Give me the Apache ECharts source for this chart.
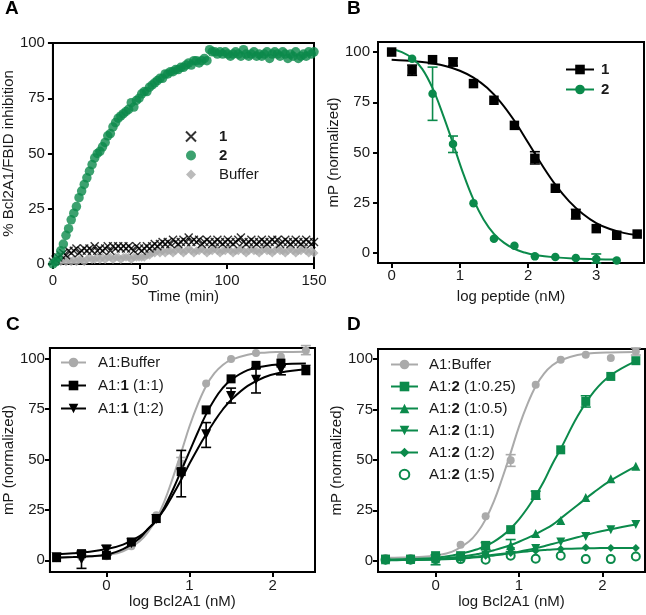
<!DOCTYPE html>
<html><head><meta charset="utf-8">
<script src="https://cdn.jsdelivr.net/npm/echarts@6/dist/echarts.min.js"></script>
<style>html,body{margin:0;padding:0;background:#fff}#c{width:646px;height:615px}</style>
</head><body><div id="c"></div>
<script>
// ---------- Panel A: kinetics ----------
const timeMin = [0,1.5,3,4.5,6,7.5,9,10.5,12,13.5,
15,16.5,18,19.5,21,22.5,24,25.5,27,28.5,
30,31.5,33,34.5,36,37.5,39,40.5,42,43.5,
45,46.5,48,49.5,51,52.5,54,55.5,57,58.5,
60,61.5,63,64.5,66,67.5,69,70.5,72,73.5,
75,76.5,78,79.5,81,82.5,84,85.5,87,88.5,
90,91.5,93,94.5,96,97.5,99,100.5,102,103.5,
105,106.5,108,109.5,111,112.5,114,115.5,117,118.5,
120,121.5,123,124.5,126,127.5,129,130.5,132,133.5,
135,136.5,138,139.5,141,142.5,144,145.5,147,148.5,
150];
const inhib2 = [0,1,3,6,9,13,16,20,23,26,
30,33,36,39,42,45,48,50,51,53,
55,58,59,62,64,66,67,68,69,70,
73,71,74,75,77,78,78,80,81,82,
83,84,84,86,86,87,87,88,88,89,
89,90,91,90,92,92,91,92,93,92,
97,96,96,95,96,95,96,95,94,95,
96,95,94,97,95,94,95,96,94,95,
94,95,96,93,95,96,95,94,96,95,
93,95,94,96,93,94,95,94,96,95,
96];
const inhib1 = [1,2,3,4,5,4,6,5,6,7,
5,6,7,6,7,6,8,6,7,6,
7,8,6,8,7,8,7,8,7,8,
7,6,8,7,6,7,8,7,8,9,
8,9,10,9,10,9,11,10,9,10,
11,10,12,10,11,10,11,9,10,11,
10,9,10,11,10,9,10,11,10,9,
10,11,12,10,9,10,11,10,9,10,
11,10,9,10,11,10,11,9,10,11,
10,9,10,11,10,9,10,11,10,9,
10];
const inhibBuffer = [1,1,2,1,2,1,2,1,2,1,
2,2,1,2,3,2,2,3,2,3,
2,3,3,2,3,3,2,3,3,3,
2,3,3,3,3,3,4,4,5,5,
6,5,6,5,6,6,5,6,7,6,
5,6,7,6,5,6,6,7,6,5,
6,6,7,6,5,6,6,7,6,5,
6,6,7,6,5,6,7,6,6,5,
6,7,6,6,5,6,7,6,6,5,
6,7,6,5,6,6,7,6,5,6,
5];
const ticksA_x = [0,50,100,150];
const ticksPct = [0,25,50,75,100];

// ---------- Panel B: competition ----------
const logPep1 = [0,0.3,0.6,0.9,1.2,1.5,1.8,2.1,2.4,2.7,3.0,3.3,3.6];
const mpB1 = [100,91,96.2,95,84.3,76,63.5,47.1,32.2,19.3,12.1,8.8,9.4];
const errB1X = [0.3,0.9,2.1,2.7];
const errB1Lo = [88.4,93.2,44.3,16.9];
const errB1Hi = [93.5,97,50.4,21.7];
const logPep2 = [0.3,0.6,0.9,1.2,1.5,1.8,2.1,2.4,2.7,3.0,3.3];
const mpB2 = [96.7,79.3,54.2,24.8,7.1,3.6,-1.7,-2,-2.5,-3,-3.8];
const errB2X = [0.6,0.9,3.0];
const errB2Lo = [66,50,-5];
const errB2Hi = [92.5,58.2,-0.5];
const fitXB1 = [0,0.2,0.4,0.6,0.8,1.0,1.2,1.4,1.6,1.8,2.0,2.2,2.4,2.6,2.8,3.0,3.2,3.4,3.6];
const fitB1 = [96.2,95.8,95.2,94.3,92.9,90.7,87.3,82.2,75,65.8,55,44,34,25.8,19.5,14.9,11.9,10,8.9];
const fitXB2 = [0,0.15,0.3,0.45,0.6,0.75,0.9,1.05,1.2,1.35,1.5,1.65,1.8,1.95,2.1,2.4,2.7,3.0,3.3];
const fitB2 = [101.5,100,97,91.5,82,69,54.5,39.5,26.5,16.5,9.5,5,2,0.2,-1,-2.2,-2.8,-3.1,-3.2];
const ticksB_x = [0,1,2,3];

// ---------- Panels C & D: titrations ----------
const logA1 = [-0.6,-0.3,0,0.3,0.6,0.9,1.2,1.5,1.8,2.1,2.4];
const cBuf = [1.2,1.5,2,7,22.4,48,87.7,99.8,102.8,101,104.1];
const c11 = [1.3,3.3,2.5,9.1,20.7,44,74.6,90,96.7,97.8,94];
const c12 = [1.5,0.5,5,8.5,20.5,43,62.5,81.5,89.6,94.5,94.5];
const errCBufX = [0.9,2.4], errCBufLo = [46,102], errCBufHi = [51,106.5];
const errC12X = [-0.3,0,0.9,1.2,1.5,1.8,2.1];
const errC12Lo = [-4,2.5,31.5,56,78,83,92];
const errC12Hi = [4.5,7.5,54.5,68.3,85.4,95.4,96.8];
const fitX = [-0.6,-0.4,-0.2,0,0.2,0.4,0.5,0.6,0.7,0.8,0.9,1.0,1.1,1.2,1.3,1.4,1.5,1.7,1.9,2.1,2.4];
const fitCBuf = [1.5,1.6,1.9,2.6,4.5,9.5,14,20.5,29.5,41,53.5,66.5,77.5,86.5,92.8,96.9,99.4,102,103,103.3,103.5];
const fitC11 = [1.3,1.6,2,2.8,5.5,11,15.5,19.5,26.5,35,44.5,54,63.5,72.5,79.8,85.5,89.5,94.3,96.3,97.2,97.6];
const fitC12 = [3,3.5,4.3,5.6,7.8,12,15.5,20,25.5,32.5,40,48,55.5,62.5,69,74.8,79.5,86.5,90.8,93.2,94.8];

const dBuf = [1.3,1.3,2.1,7.9,22,49.8,87.3,99.7,102.1,100.5,103.8];
const dQ25 = [0.8,0.8,2.5,2.5,7.6,15.4,32.7,55,79,91.4,99.2];
const dH50 = [0.5,0.6,1,2,4.7,7.5,13.5,20,31.4,40.7,46.8];
const d11 = [0.3,0.5,0.8,1.5,2.8,4.5,6,9.3,12,15.4,18];
const d12 = [0.3,0.4,0.8,1.5,2.5,3.8,5,5.8,6.5,6.3,6.3];
const d15 = [0.5,0.5,0.8,0.8,0.5,2.5,1,2.5,0.8,0.8,2.1];
const errDBufX = [0.9,2.4], errDBufLo = [46.8,102], errDBufHi = [52.6,105.5];
const errDQ25X = [0,0.6,1.2,1.8], errDQ25Lo = [-2,5.5,30.5,76.2], errDQ25Hi = [3,9,34.5,81.8];
const errDH50X = [0.9], errDH50Lo = [4.5], errDH50Hi = [10.5];
const fitDBuf = [1.5,1.6,1.9,2.6,4.5,9.5,14,20.5,29.5,41,53.5,66.5,77.5,86.5,92.8,96.9,99.4,102,103,103.3,103.5];
const fitDQ25 = [0.6,0.7,1,1.5,2.6,4.4,5.7,7.3,9.5,12.3,16,20.5,26,32.3,39.5,48,55.5,71.5,84,92,99];
const fitDH50 = [0.4,0.5,0.7,1,1.6,2.6,3.3,4.1,5.2,6.4,7.8,9.4,11.2,13.2,15.4,17.8,21,27.5,34,39.8,46.8];
const fitD11 = [0.3,0.35,0.45,0.6,0.9,1.4,1.7,2.1,2.6,3.1,3.8,4.5,5.3,6.2,7.2,8.3,9.4,11.6,13.8,15.6,18];
const fitD12 = [0.2,0.3,0.4,0.7,1.1,1.7,2.1,2.5,2.9,3.4,3.8,4.2,4.6,5,5.3,5.6,5.8,6.1,6.2,6.3,6.3];
const ticksCD_x = [0,1,2];

// ---------- styling ----------
const FONT = 'Liberation Sans, Arial, Helvetica, sans-serif';
const TXT = '#1a1a1a';
const GREEN = '#0b8a4b';
const GRAY = '#aaaaaa';
const BLACK = '#000000';
const XSYM = 'path://M0,0L10,10M0,10L10,0';
const DOWNTRI = 'path://M0,0L10,0L5,9Z';

const legendText = {
  'A:1': '{b|1}', 'A:2': '{b|2}', 'A:Buffer': 'Buffer',
  'B:1': '{b|1}', 'B:2': '{b|2}',
  'C:buf': 'A1:Buffer', 'C:11': 'A1:{b|1} (1:1)', 'C:12': 'A1:{b|1} (1:2)',
  'D:buf': 'A1:Buffer', 'D:q25': 'A1:{b|2} (1:0.25)', 'D:h50': 'A1:{b|2} (1:0.5)',
  'D:11': 'A1:{b|2} (1:1)', 'D:12': 'A1:{b|2} (1:2)', 'D:15': 'A1:{b|2} (1:5)'
};

function pts(xs, ys){ return xs.map((x,i)=>[x, ys[i]]); }
function errs(xs, lo, hi){ return xs.map((x,i)=>[x, lo[i], hi[i]]); }

function axis(gridIndex, min, max, ticks, name, nameGap, margin){
  return {
    type:'value', gridIndex, min, max, name, nameLocation:'middle', nameGap,
    nameTextStyle:{fontSize:15, color:TXT, fontFamily:FONT},
    axisLine:{show:true, onZero:false, lineStyle:{color:'#000', width:2}},
    axisTick:{show:true, inside:false, length:5, lineStyle:{color:'#000', width:2}, customValues:ticks},
    axisLabel:{customValues:ticks, fontSize:15, color:TXT, fontFamily:FONT, margin},
    splitLine:{show:false}
  };
}

function errSeries(idx, data, color){
  return {
    type:'custom', xAxisIndex:idx, yAxisIndex:idx, data, z:3, silent:true,
    encode:{x:0, y:[1,2]},
    renderItem:function(params, api){
      const x = api.value(0);
      const a = api.coord([x, api.value(1)]);
      const b = api.coord([x, api.value(2)]);
      const st = {stroke:color, lineWidth:1.6};
      const w = 5;
      return {type:'group', children:[
        {type:'line', shape:{x1:a[0], y1:a[1], x2:b[0], y2:b[1]}, style:st},
        {type:'line', shape:{x1:a[0]-w, y1:a[1], x2:a[0]+w, y2:a[1]}, style:st},
        {type:'line', shape:{x1:b[0]-w, y1:b[1], x2:b[0]+w, y2:b[1]}, style:st}
      ]};
    }
  };
}
function fitLine(idx, name, data, color, symbol, z){
  return {type:'line', name, xAxisIndex:idx, yAxisIndex:idx, data, smooth:0.4,
    showSymbol:false, symbol, color, z:z||2,
    lineStyle:{color, width:2}, itemStyle:{color}};
}
function dots(idx, data, color, symbol, size, z){
  return {type:'scatter', xAxisIndex:idx, yAxisIndex:idx, data, symbol, symbolSize:size,
    itemStyle:{color, opacity:1}, z:z||4, silent:true};
}
function legend(left, top, names, itemWidth, itemHeight, gap, pad){
  return {show:true, orient:'vertical', left, top, padding:0, itemGap:gap,
    itemWidth, itemHeight, selectedMode:false, data:names,
    formatter:n=>legendText[n],
    textStyle:{fontSize:15, color:TXT, fontFamily:FONT, padding:[0,0,0,pad],
      rich:{b:{fontWeight:'bold', fontSize:15, color:TXT, fontFamily:FONT}}}};
}

const option = {
  animation:false,
  backgroundColor:'#fff',
  textStyle:{fontFamily:FONT},
  graphic:[
    {type:'text', left:5, top:-1, style:{text:'A', font:'bold 19px '+FONT, fill:'#000'}},
    {type:'text', left:347, top:-1, style:{text:'B', font:'bold 19px '+FONT, fill:'#000'}},
    {type:'text', left:6, top:315, style:{text:'C', font:'bold 19px '+FONT, fill:'#000'}},
    {type:'text', left:347, top:315, style:{text:'D', font:'bold 19px '+FONT, fill:'#000'}}
  ],
  grid:[
    {left:48, top:43, width:266, height:221, show:true, borderColor:'#000', borderWidth:2, backgroundColor:'transparent'},
    {left:378, top:42, width:266, height:221, show:true, borderColor:'#000', borderWidth:2, backgroundColor:'transparent'},
    {left:49, top:348, width:266, height:224, show:true, borderColor:'#000', borderWidth:2, backgroundColor:'transparent'},
    {left:378, top:349, width:267, height:223, show:true, borderColor:'#000', borderWidth:2, backgroundColor:'transparent'}
  ],
  xAxis:[
    axis(0, 0, 150, ticksA_x, 'Time (min)', 25, 9),
    axis(1, -0.2, 3.7, ticksB_x, 'log peptide (nM)', 26, 5),
    axis(2, -0.68, 2.51, ticksCD_x, 'log Bcl2A1 (nM)', 20, 6),
    axis(3, -0.69, 2.51, ticksCD_x, 'log Bcl2A1 (nM)', 20, 6)
  ],
  yAxis:[
    axis(0, 0, 100, ticksPct, '% Bcl2A1/FBID inhibition', 32, 8),
    axis(1, -5, 105, ticksPct, 'mP (normalized)', 32, 8),
    axis(2, -5.8, 105.3, ticksPct, 'mP (normalized)', 27, 5),
    axis(3, -5.6, 105, ticksPct, 'mP (normalized)', 33, 5)
  ],
  legend:[
    legend(185, 129, ['A:1','A:2','A:Buffer'], 10, 10, 4, 18),
    legend(565, 62, ['B:1','B:2'], 28, 12, 5, 2),
    legend(60, 355, ['C:buf','C:11','C:12'], 25, 12, 8, 7),
    legend(390, 357, ['D:buf','D:q25','D:h50','D:11','D:12','D:15'], 27, 12, 7, 6)
  ],
  series:[
    // A
    {type:'scatter', name:'A:Buffer', xAxisIndex:0, yAxisIndex:0, data:pts(timeMin, inhibBuffer),
      symbol:'diamond', symbolSize:9, itemStyle:{color:GRAY}, z:2},
    {type:'scatter', name:'A:1', xAxisIndex:0, yAxisIndex:0, data:pts(timeMin, inhib1),
      symbol:XSYM, symbolSize:8, itemStyle:{color:'transparent', borderColor:BLACK, borderWidth:1.4}, z:3},
    {type:'scatter', name:'A:2', xAxisIndex:0, yAxisIndex:0, data:pts(timeMin, inhib2),
      symbol:'circle', symbolSize:9.5, itemStyle:{color:GREEN}, z:4},
    // B
    fitLine(1, 'B:1', pts(fitXB1, fitB1), BLACK, 'rect'),
    fitLine(1, 'B:2', pts(fitXB2, fitB2), GREEN, 'circle'),
    errSeries(1, errs(errB1X, errB1Lo, errB1Hi), BLACK),
    errSeries(1, errs(errB2X, errB2Lo, errB2Hi), GREEN),
    dots(1, pts(logPep2, mpB2), GREEN, 'circle', 8.5),
    dots(1, pts(logPep1, mpB1), BLACK, 'rect', 9.5),
    // C
    fitLine(2, 'C:buf', pts(fitX, fitCBuf), GRAY, 'circle', 1),
    errSeries(2, errs(errCBufX, errCBufLo, errCBufHi), GRAY),
    dots(2, pts(logA1, cBuf), GRAY, 'circle', 8, 1),
    fitLine(2, 'C:11', pts(fitX, fitC11), BLACK, 'rect'),
    fitLine(2, 'C:12', pts(fitX, fitC12), BLACK, DOWNTRI),
    errSeries(2, errs(errC12X, errC12Lo, errC12Hi), BLACK),
    dots(2, pts(logA1, c11), BLACK, 'rect', 9),
    dots(2, pts(logA1, c12), BLACK, DOWNTRI, 10),
    // D
    fitLine(3, 'D:buf', pts(fitX, fitDBuf), GRAY, 'circle', 1),
    errSeries(3, errs(errDBufX, errDBufLo, errDBufHi), GRAY),
    dots(3, pts(logA1, dBuf), GRAY, 'circle', 8, 1),
    fitLine(3, 'D:q25', pts(fitX, fitDQ25), GREEN, 'rect'),
    fitLine(3, 'D:h50', pts(fitX, fitDH50), GREEN, 'triangle'),
    fitLine(3, 'D:11', pts(fitX, fitD11), GREEN, DOWNTRI),
    fitLine(3, 'D:12', pts(fitX, fitD12), GREEN, 'diamond'),
    {type:'line', name:'D:15', xAxisIndex:3, yAxisIndex:3, data:pts(logA1, d15),
      symbol:'emptyCircle', symbolSize:8, showSymbol:true, color:GREEN,
      lineStyle:{width:0, opacity:0}, itemStyle:{color:GREEN, borderColor:GREEN, borderWidth:2}, z:4},
    errSeries(3, errs(errDQ25X, errDQ25Lo, errDQ25Hi), GREEN),
    errSeries(3, errs(errDH50X, errDH50Lo, errDH50Hi), GREEN),
    dots(3, pts(logA1, dQ25), GREEN, 'rect', 9),
    dots(3, pts(logA1, dH50), GREEN, 'triangle', 9),
    dots(3, pts(logA1, d11), GREEN, DOWNTRI, 9),
    dots(3, pts(logA1, d12), GREEN, 'diamond', 8)
  ]
};

const chart = echarts.init(document.getElementById('c'), null, {renderer:'canvas'});
chart.setOption(option);
</script></body></html>
